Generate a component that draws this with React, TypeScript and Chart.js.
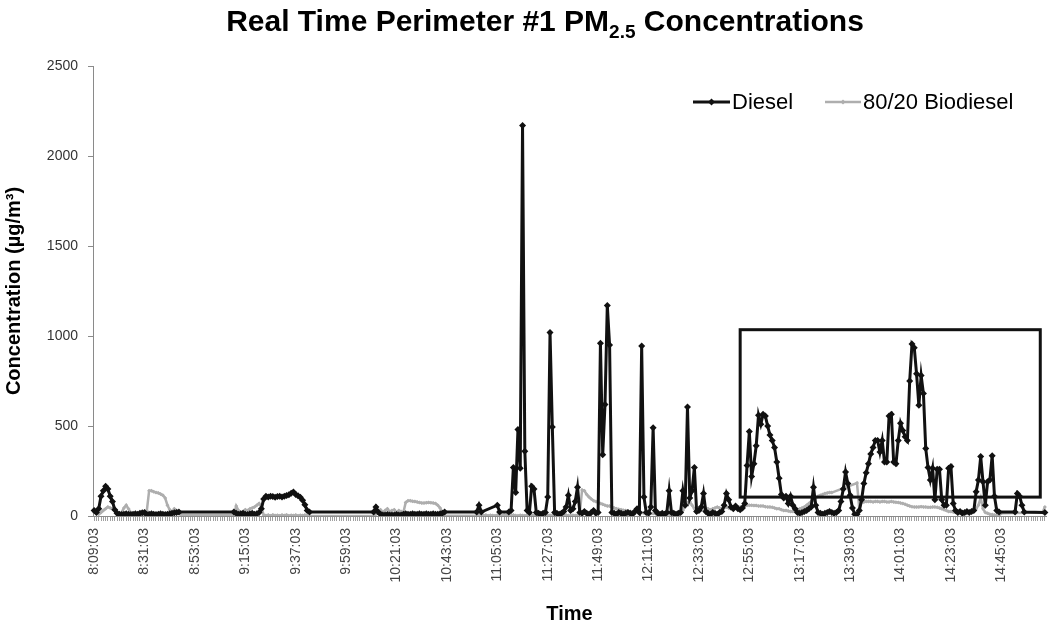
import React, { useEffect, useRef } from "react";
import { Chart, registerables } from "chart.js";
Chart.register(...registerables);

// ---- data ----
const START_TIME = "8:09:03"; // first sample, one sample per minute
const SAMPLE_COUNT = 416;
const TICK_LABELS = [
  "8:09:03", "8:31:03", "8:53:03", "9:15:03", "9:37:03", "9:59:03", "10:21:03",
  "10:43:03", "11:05:03", "11:27:03", "11:49:03", "12:11:03", "12:33:03",
  "12:55:03", "13:17:03", "13:39:03", "14:01:03", "14:23:03", "14:45:03",
];
const Y_TICKS = [0, 500, 1000, 1500, 2000, 2500];
const _ = null;

const DIESEL: (number | null)[] = [
  30, 20, 40, 110, 140, 165, 150, 110, 80, 35,
  15, 10, 8, 10, 12, 10, 8, 10, 12, 10,
  15, 18, 20, 8, 10, 12, 10, 8, 10, 12,
  10, 8, 10, 12, 15, 18, 20, 22, _, _,
  _, _, _, _, _, _, _, _, _, _,
  _, _, _, _, _, _, _, _, _, _,
  _, 22, 15, 10, 12, 15, 10, 8, 12, 15,
  10, 12, 20, 40, 95, 110, 105, 110, 108, 104,
  108, 110, 106, 110, 114, 118, 126, 134, 120, 112,
  104, 88, 62, 30, 22, _, _, _, _, _,
  _, _, _, _, _, _, _, _, _, _,
  _, _, _, _, _, _, _, _, _, _,
  _, _, 22, 50, 22, 10, 5, 5, 8, 5,
  5, 5, 8, 5, 5, 10, 12, 10, 10, 12,
  10, 10, 12, 10, 10, 12, 10, 10, 12, 10,
  10, 12, 15, 22, _, _, _, _, _, _,
  _, _, _, _, _, _, _, 22, 60, 22,
  _, _, _, _, _, _, 60, 22, _, _,
  _, 22, 30, 270, 130, 480, 265, 2170, 360, 30,
  20, 165, 150, 20, 15, 10, 15, 20, 105, 1020,
  495, 20, 15, 10, 15, 25, 50, 115, 30, 40,
  80, 160, 20, 15, 25, 15, 10, 20, 30, 15,
  20, 960, 340, 620, 1170, 950, 20, 15, 10, 20,
  15, 10, 15, 20, 15, 10, 25, 40, 20, 945,
  105, 20, 15, 50, 490, 30, 15, 10, 15, 10,
  20, 140, 20, 15, 10, 15, 20, 140, 60, 605,
  100, 140, 270, 25, 30, 50, 125, 25, 15, 10,
  20, 15, 10, 20, 25, 60, 125, 90, 50, 40,
  55, 40, 35, 45, 70, 280, 470, 220, 290, 390,
  560, 510, 565, 555, 500, 450, 420, 380, 300, 210,
  120, 100, 110, 70, 110, 60, 40, 20, 15, 20,
  25, 30, 40, 50, 160, 60, 20, 15, 10, 15,
  20, 25, 20, 15, 20, 30, 80, 150, 245, 180,
  115, 45, 10, 10, 30, 90, 180, 240, 290, 345,
  380, 420, 420, 355, 420, 300, 300, 555, 565, 300,
  290, 420, 515, 475, 440, 420, 750, 955, 935, 790,
  615, 780, 680, 375, 270, 200, 265, 90, 260, 260,
  90, 60, 60, 265, 275, 70, 30, 20, 25, 15,
  20, 25, 20, 25, 30, 135, 200, 330, 190, 60,
  190, 200, 335, 110, 30, 22, _, _, _, _,
  _, _, 22, 125, 110, 60, 22, _, _, _,
  _, _, _, _, _, 20,
];

const BIODIESEL: (number | null)[] = [
  20, 15, 10, 20, 30, 40, 50, 45, 40, 35,
  25, 15, 20, 45, 60, 40, 20, 10, 8, 5,
  5, 5, 10, 30, 140, 140, 135, 130, 128, 122,
  115, 100, 60, 35, 20, 40, 30, 15, 5, _,
  _, _, _, _, _, _, _, _, _, _,
  _, _, _, _, _, _, _, _, _, _,
  _, 5, 55, 30, 20, 25, 35, 30, 40, 45,
  50, 60, 70, 50, 5, 3, 5, 2, 6, 3,
  4, 2, 5, 3, 6, 2, 4, 3, 5, 2,
  4, 3, 5, 3, 0, _, _, _, _, _,
  _, _, _, _, _, _, _, _, _, _,
  _, _, _, _, _, _, _, _, _, _,
  _, _, 2, 10, 25, 35, 20, 30, 40, 25,
  30, 35, 20, 30, 25, 20, 75, 85, 85, 82,
  80, 78, 75, 72, 72, 74, 75, 74, 72, 70,
  60, 45, 20, 2, _, _, _, _, _, _,
  _, _, _, _, _, _, _, 2, 4, 2,
  3, 5, 2, 4, 3, 1, 5, 3, 2, 6,
  3, 4, 2, 5, 3, 2, 4, 3, 1, 4,
  3, 6, 2, 4, 3, 2, 5, 2, 3, 4,
  2, 5, 3, 4, 2, 3, 5, 3, 2, 4,
  3, 5, 20, 145, 140, 120, 105, 95, 85, 80,
  75, 70, 65, 60, 55, 55, 50, 45, 40, 38,
  35, 32, 30, 28, 25, 22, 20, 20, 18, 18,
  16, 15, 15, 14, 14, 12, 12, 12, 10, 10,
  10, 10, 8, 8, 8, 10, 15, 30, 60, 75,
  80, 60, 40, 25, 30, 35, 40, 45, 40, 35,
  40, 45, 50, 45, 40, 45, 50, 45, 40, 45,
  50, 45, 50, 55, 55, 60, 60, 60, 58, 58,
  55, 55, 55, 52, 50, 50, 48, 45, 40, 40,
  35, 30, 30, 28, 25, 25, 30, 35, 40, 45,
  50, 60, 70, 80, 90, 100, 110, 115, 120, 125,
  128, 130, 130, _, _, _, _, _, _, _,
  _, _, _, 183, 40, 75, 78, 80, 80, 80,
  78, 80, 80, 78, 80, 80, 78, 78, 80, 78,
  76, 75, 72, 70, 65, 60, 55, 52, 50, 50,
  50, 52, 50, 50, 48, 48, 50, 50, 48, 45,
  40, 35, 30, 25, 25, 22, 20, 20, 22, 25,
  22, 20, 20, 22, 25, 40, 60, 100, 40, 20,
  15, 10, 8, 5, 5, 5, 15, _, _, _,
  _, _, _, _, _, _, _, _, _, _,
  _, _, _, _, 20, 50,
];

// highlighted period (data coordinates)
const BOX_X_START = "12:51:03";
const BOX_X_END = "15:02:03";
const BOX_Y_MIN = 105;
const BOX_Y_MAX = 1035;

const SERIES_NAMES = ["Diesel", "80/20 Biodiesel"];

function buildCategories(): string[] {
  const [h, m] = START_TIME.split(":").map(Number);
  const out: string[] = [];
  for (let i = 0; i < SAMPLE_COUNT; i++) {
    const t = h * 60 + m + i;
    const hh = Math.floor(t / 60);
    const mm = t % 60;
    out.push(`${hh}:${mm < 10 ? "0" + mm : mm}:03`);
  }
  return out;
}

const FONT = "'Liberation Sans', Arial, sans-serif";
const DIESEL_COLOR = "#111111";
const BIO_COLOR = "#aeaeae";

function drawDiamond(ctx: CanvasRenderingContext2D, x: number, y: number, r: number, color: string) {
  ctx.beginPath();
  ctx.moveTo(x, y - r);
  ctx.lineTo(x + r, y);
  ctx.lineTo(x, y + r);
  ctx.lineTo(x - r, y);
  ctx.closePath();
  ctx.fillStyle = color;
  ctx.fill();
}

const decorations = {
  id: "decorations",
  afterDatasetsDraw(chart: any) {
    const { ctx, scales } = chart;
    const x = scales.x;
    const y = scales.y;
    const cats: string[] = chart.data.labels;
    const i0 = cats.indexOf(BOX_X_START);
    const i1 = cats.indexOf(BOX_X_END);
    const left = x.getPixelForValue(i0);
    const right = x.getPixelForValue(i1);
    const top = y.getPixelForValue(BOX_Y_MAX);
    const bottom = y.getPixelForValue(BOX_Y_MIN);
    ctx.save();
    ctx.strokeStyle = "#111";
    ctx.lineWidth = 3;
    ctx.strokeRect(left, top, right - left, bottom - top);
    ctx.restore();
  },
  afterDraw(chart: any) {
    const { ctx, chartArea } = chart;
    ctx.save();
    // title with subscript
    const main1 = "Real Time Perimeter #1 PM";
    const sub = "2.5";
    const main2 = " Concentrations";
    ctx.fillStyle = "#000";
    ctx.textBaseline = "alphabetic";
    ctx.font = `bold 30px ${FONT}`;
    const w1 = ctx.measureText(main1).width;
    const w3 = ctx.measureText(main2).width;
    ctx.font = `bold 19px ${FONT}`;
    const w2 = ctx.measureText(sub).width;
    const total = w1 + w2 + w3;
    let tx = 545 - total / 2;
    const ty = 31;
    ctx.font = `bold 30px ${FONT}`;
    ctx.textAlign = "left";
    ctx.fillText(main1, tx, ty);
    tx += w1;
    ctx.font = `bold 19px ${FONT}`;
    ctx.fillText(sub, tx, ty + 7);
    tx += w2;
    ctx.font = `bold 30px ${FONT}`;
    ctx.fillText(main2, tx, ty);

    // axis titles
    ctx.font = `bold 20px ${FONT}`;
    ctx.textAlign = "center";
    ctx.textBaseline = "middle";
    ctx.fillText("Time", (chartArea.left + chartArea.right) / 2, 614);
    ctx.save();
    ctx.translate(14, (chartArea.top + chartArea.bottom) / 2);
    ctx.rotate(-Math.PI / 2);
    ctx.fillText("Concentration (\u00b5g/m\u00b3)", 0, 0);
    ctx.restore();

    // legend
    const ly = 102;
    ctx.lineWidth = 3;
    ctx.strokeStyle = DIESEL_COLOR;
    ctx.beginPath();
    ctx.moveTo(693, ly);
    ctx.lineTo(730, ly);
    ctx.stroke();
    drawDiamond(ctx, 711.5, ly, 3.5, DIESEL_COLOR);
    ctx.lineWidth = 2.5;
    ctx.strokeStyle = BIO_COLOR;
    ctx.beginPath();
    ctx.moveTo(825, ly);
    ctx.lineTo(861, ly);
    ctx.stroke();
    drawDiamond(ctx, 843, ly, 2.5, BIO_COLOR);
    ctx.fillStyle = "#000";
    ctx.font = `22px ${FONT}`;
    ctx.textAlign = "left";
    ctx.textBaseline = "middle";
    ctx.fillText(SERIES_NAMES[0], 732, ly + 1);
    ctx.fillText(SERIES_NAMES[1], 863, ly + 1);
    ctx.restore();
  },
};

export default function App() {
  const ref = useRef<HTMLCanvasElement | null>(null);
  useEffect(() => {
    if (!ref.current) return;
    const categories = buildCategories();
    const chart = new Chart(ref.current, {
      type: "line",
      data: {
        labels: categories,
        datasets: [
          {
            label: SERIES_NAMES[0],
            data: DIESEL,
            borderColor: DIESEL_COLOR,
            backgroundColor: DIESEL_COLOR,
            borderWidth: 3,
            pointStyle: "rectRot",
            pointRadius: 3.5,
            pointBorderWidth: 0,
            spanGaps: true,
            tension: 0,
          },
          {
            label: SERIES_NAMES[1],
            data: BIODIESEL,
            borderColor: BIO_COLOR,
            backgroundColor: BIO_COLOR,
            borderWidth: 2.5,
            pointStyle: "rectRot",
            pointRadius: 2,
            pointBorderWidth: 0,
            spanGaps: true,
            tension: 0,
          },
        ],
      },
      options: {
        animation: false,
        responsive: true,
        maintainAspectRatio: false,
        layout: { padding: { top: 66, right: 3, left: 0, bottom: 0 } },
        plugins: {
          legend: { display: false },
          title: { display: false },
          tooltip: { enabled: false },
        },
        events: [],
        scales: {
          x: {
            type: "category",
            offset: true,
            afterFit: (s: any) => {
              s.height = 114;
              s.paddingLeft = 0;
              s.paddingRight = 0;
            },
            grid: {
              display: true,
              drawOnChartArea: false,
              drawTicks: true,
              tickLength: 5,
              color: "#a0a0a0",
              lineWidth: 1,
            },
            border: { display: true, color: "#8a8a8a", width: 1 },
            ticks: {
              autoSkip: false,
              maxRotation: 90,
              minRotation: 90,
              padding: 7,
              color: "#444",
              font: { family: FONT, size: 14 },
              callback: (_v: any, idx: number) =>
                TICK_LABELS.includes(categories[idx]) ? categories[idx] : "",
            },
          },
          y: {
            min: Y_TICKS[0],
            max: Y_TICKS[Y_TICKS.length - 1],
            afterFit: (s: any) => {
              s.width = 93;
              s.paddingTop = 0;
              s.paddingBottom = 0;
            },
            afterBuildTicks: (s: any) => {
              s.ticks = Y_TICKS.map((v) => ({ value: v }));
            },
            grid: {
              display: true,
              drawOnChartArea: false,
              drawTicks: true,
              tickLength: 5,
              color: "#8a8a8a",
            },
            border: { display: true, color: "#8a8a8a", width: 1 },
            ticks: {
              padding: 10,
              color: "#333",
              font: { family: FONT, size: 14 },
              callback: (v: any) => String(v),
            },
          },
        },
      },
      plugins: [decorations],
    });
    return () => chart.destroy();
  }, []);
  return (
    <div style={{ position: "absolute", left: 0, top: 0, width: 1050, height: 630, background: "#fff" }}>
      <canvas ref={ref} />
    </div>
  );
}
